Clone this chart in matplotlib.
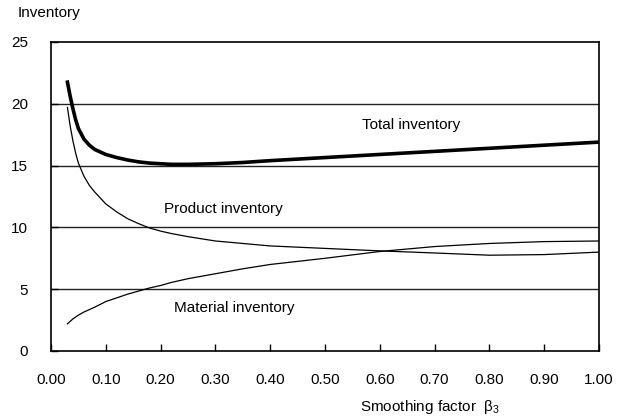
import matplotlib.pyplot as plt

plt.rcParams['font.family'] = ['Liberation Sans', 'DejaVu Sans']

# values
beta = [0.03, 0.035, 0.04, 0.045, 0.05, 0.06, 0.07, 0.08, 0.10, 0.12, 0.14, 0.16,
        0.18, 0.20, 0.22, 0.25, 0.30, 0.35, 0.40, 0.50, 0.60, 0.70, 0.80, 0.90, 1.00]
total_inv = [21.75, 20.6, 19.6, 18.7, 18.0, 17.15, 16.65, 16.3, 15.9, 15.65, 15.45, 15.3,
             15.2, 15.15, 15.1, 15.1, 15.15, 15.25, 15.4, 15.65, 15.9, 16.15, 16.4, 16.65, 16.9]
product_inv = [19.7, 18.2, 17.0, 16.0, 15.2, 14.15, 13.4, 12.85, 11.9, 11.25, 10.7, 10.3,
               9.95, 9.7, 9.5, 9.25, 8.9, 8.7, 8.5, 8.3, 8.1, 7.93, 7.75, 7.8, 8.0]
material_inv = [2.2, 2.4, 2.6, 2.75, 2.9, 3.15, 3.35, 3.55, 4.0, 4.3, 4.6, 4.85,
                5.1, 5.3, 5.55, 5.85, 6.25, 6.65, 7.0, 7.5, 8.05, 8.45, 8.7, 8.85, 8.9]

xticks = [0.0, 0.1, 0.2, 0.3, 0.4, 0.5, 0.6, 0.7, 0.8, 0.9, 1.0]
yticks = [0, 5, 10, 15, 20, 25]

fig = plt.figure(figsize=(6.19, 4.19), dpi=100)
ax = fig.add_axes([0.0824, 0.1623, 0.8853, 0.7375])

# horizontal reference lines
for y in yticks[1:-1]:
    ax.axhline(y, color='#222222', lw=1.0, zorder=1)

ax.plot(beta, total_inv, color='black', lw=2.6, zorder=3, solid_joinstyle='round')
ax.plot(beta, product_inv, color='black', lw=0.9, zorder=3, solid_joinstyle='round')
ax.plot(beta, material_inv, color='black', lw=0.9, zorder=3, solid_joinstyle='round')

ax.text(0.658, 18.3, 'Total inventory', ha='center', va='center', fontsize=11)
ax.text(0.3145, 11.5, 'Product inventory', ha='center', va='center', fontsize=11)
ax.text(0.3336, 3.5, 'Material inventory', ha='center', va='center', fontsize=11)

ax.set_xlim(0, 1.0)
ax.set_ylim(0, 25)
ax.set_xticks(xticks)
ax.set_xticklabels(['%.2f' % v for v in xticks])
ax.set_yticks(yticks)
ax.tick_params(axis='x', direction='in', length=5, width=1, labelsize=11, pad=16)
ax.tick_params(axis='y', direction='in', length=5, width=1, labelsize=11, pad=16.5)
for s in ax.spines.values():
    s.set_linewidth(1.2)

fig.text(18 / 619, 1 - 12.5 / 419, 'Inventory', fontsize=11, va='center', ha='left')
fig.text(500 / 619, 1 - 407 / 419, r'Smoothing factor  β$\mathregular{_3}$', fontsize=11,
         ha='right', va='center')

fig.savefig('out.png', dpi=100)
